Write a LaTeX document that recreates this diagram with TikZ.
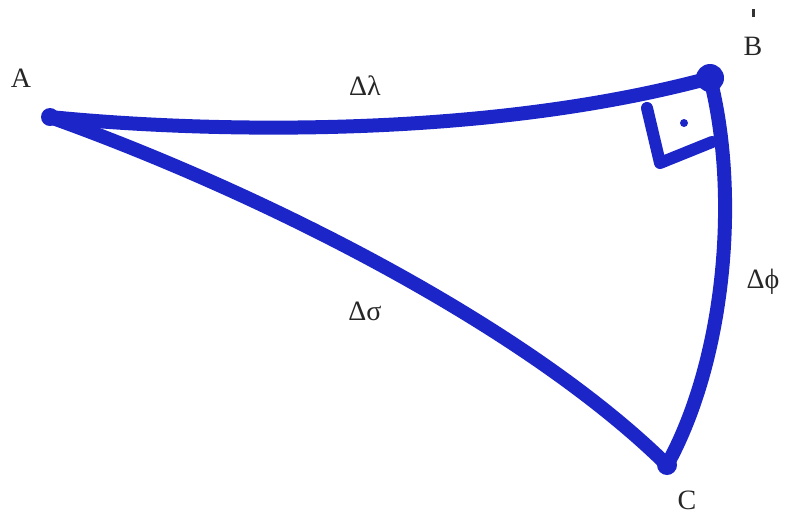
\documentclass[tikz,border=0pt]{standalone}
\usepackage{fontspec}
\setmainfont{Liberation Serif}
\definecolor{pen}{RGB}{28,38,200}
\begin{document}
\begin{tikzpicture}[x=1pt,y=-1pt,
  edge/.style={draw=pen,line width=14pt,line cap=round,line join=round},
  vtx/.style={circle,fill=pen,inner sep=0pt},
  lbl/.style={font=\fontsize{28}{32}\selectfont,text=black!85,inner sep=0pt}]
\useasboundingbox (0,0) rectangle (786,515);
% vertices
\node[vtx,minimum size=18pt] (A) at (50,117) {};
\node[vtx,minimum size=28pt] (B) at (710,78) {};
\node[vtx,minimum size=20pt] (C) at (667,465) {};
% sides
\draw[edge] (A.center) .. controls (200,132) and (480,140) .. (B.center);
\draw[edge] (A.center) .. controls (260,192) and (525,325) .. (C.center);
\draw[edge] (B.center) .. controls (740,195) and (725,360) .. (C.center);
% right angle mark
\coordinate (r1) at (647,108);
\coordinate (r2) at (660,163);
\coordinate (r3) at (712,142);
\draw[draw=pen,line width=12pt,line cap=round,line join=round] (r1) -- (r2) -- (r3);
\node[vtx,minimum size=8pt] (dot) at (684,123) {};
% labels
\node[lbl] (lA) at (21,78) {A};
\node[lbl] (lB) at (753,46) {B};
\node[lbl] (lC) at (687,500) {C};
\node[lbl] (lab) at (365,86) {Δλ};
\node[lbl] (lbc) at (763,282) {Δϕ};
\node[lbl] (lac) at (365,311) {Δσ};
\fill[black!80] (752,9) rectangle (755,17);
\end{tikzpicture}
\end{document}
